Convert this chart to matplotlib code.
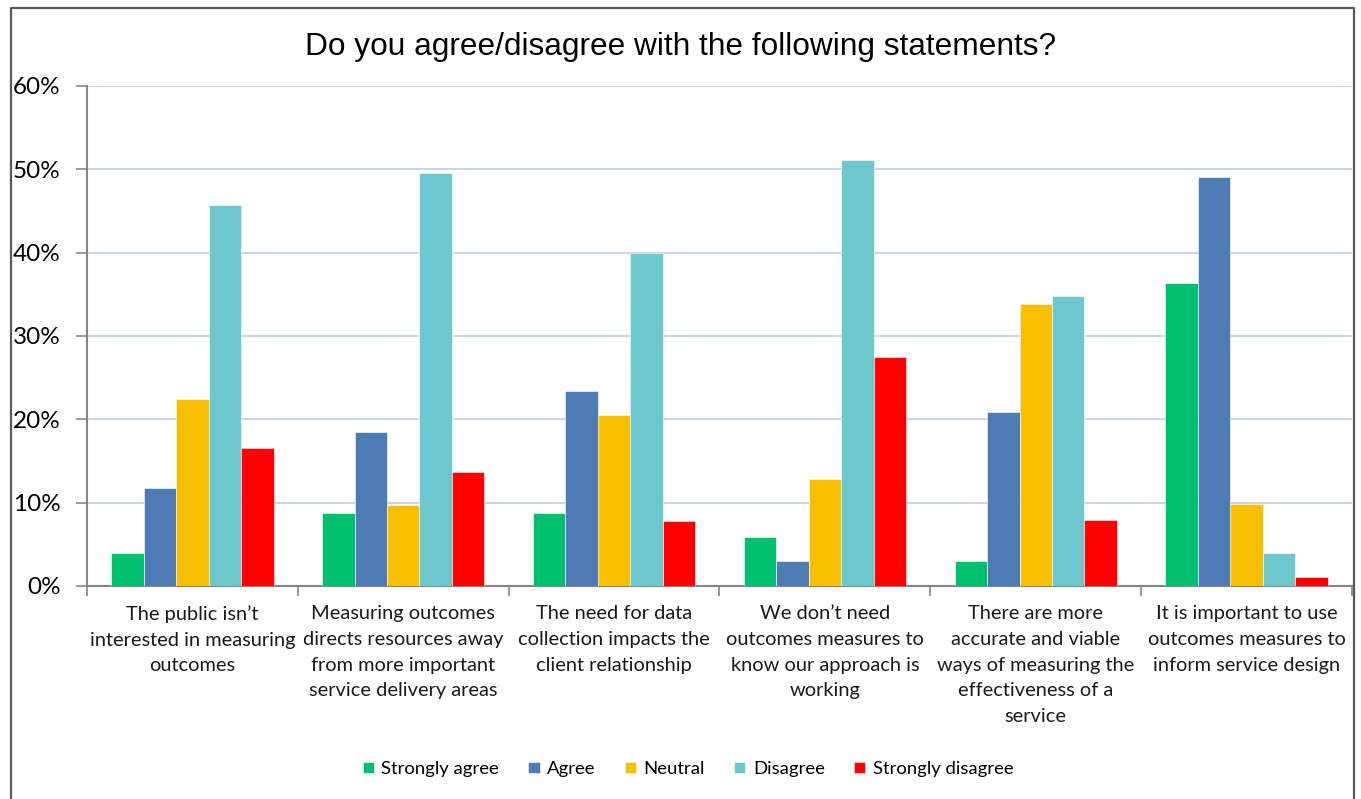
import numpy as np
import matplotlib.pyplot as plt
from matplotlib.lines import Line2D
from matplotlib.ticker import FuncFormatter

# survey statements (x categories, pre-wrapped)
statements = [
    "The public isn\u2019t\ninterested in measuring\noutcomes",
    "Measuring outcomes\ndirects resources away\nfrom more important\nservice delivery areas",
    "The need for data\ncollection impacts the\nclient relationship",
    "We don\u2019t need\noutcomes measures to\nknow our approach is\nworking",
    "There are more\naccurate and viable\nways of measuring the\neffectiveness of a\nservice",
    "It is important to use\noutcomes measures to\ninform service design",
]

responses = ["Strongly agree", "Agree", "Neutral", "Disagree", "Strongly disagree"]

# percent of respondents per statement
strongly_agree = [4.0, 8.8, 8.8, 5.9, 3.0, 36.4]
agree = [11.8, 18.5, 23.4, 3.0, 20.9, 49.1]
neutral = [22.4, 9.7, 20.5, 12.8, 33.8, 9.8]
disagree = [45.7, 49.6, 40.0, 51.1, 34.8, 4.0]
strongly_disagree = [16.6, 13.7, 7.8, 27.5, 7.9, 1.1]

colors = ["#00BF6F", "#4F7BB5", "#F8BE00", "#6CC8CC", "#FF0000"]

series = [strongly_agree, agree, neutral, disagree, strongly_disagree]

W, H = 1361, 799
fig = plt.figure(figsize=(W / 100, H / 100), dpi=100)
ax = fig.add_axes([87 / W, 1 - 586 / H, 1265 / W, 500 / H])

# chart border: left, top, right (bottom runs off the image)
bx0, bx1, by = 11 / W, 1354 / W, 1 - 8 / H
fig.lines.append(Line2D([bx0, bx0, bx1, bx1], [0, by, by, 0],
                        transform=fig.transFigure, color="#595959",
                        linewidth=1.6))

x = np.arange(len(statements))
w = 0.154
for i, (vals, c, name) in enumerate(zip(series, colors, responses)):
    ax.bar(x + (i - 2) * w, vals, w, color=c, label=name,
           edgecolor="white", linewidth=0.4, zorder=3)

ax.set_xlim(-0.5, len(statements) - 0.5)
ax.set_ylim(0, 60)
ax.set_yticks(np.arange(0, 61, 10))
ax.yaxis.set_major_formatter(FuncFormatter(lambda v, p: f"{v:.0f}%"))
ax.grid(axis="y", color="#C9D6E8", linewidth=1.5, zorder=0)

for s in ["top", "right"]:
    ax.spines[s].set_visible(False)
for s in ["left", "bottom"]:
    ax.spines[s].set_color("#868686")
    ax.spines[s].set_linewidth(1.5)

ax.tick_params(axis="y", length=8, width=1.2, color="#868686",
               labelsize=17.5, pad=11)
ax.set_xticks(np.arange(-0.5, len(statements)))
ax.set_xticklabels([])
ax.tick_params(axis="x", length=7, width=1.2, color="#868686")
for lab in ax.get_yticklabels():
    lab.set_fontfamily("Lato")

for xi, txt in zip(x, statements):
    ax.text(xi, -2.3, txt, ha="center", va="top", fontsize=14.4,
            family="Lato", color="#1A1A1A", linespacing=1.62)

fig.text(0.5, 1 - 47 / H, "Do you agree/disagree with the following statements?",
         ha="center", va="center", fontsize=22.8, family="Liberation Sans")

fig.legend(loc="center", bbox_to_anchor=(688 / W, 1 - 769 / H), ncol=5,
           frameon=False, prop={"family": "Lato", "size": 13.3},
           handlelength=0.6, handleheight=0.6, handletextpad=0.4,
           columnspacing=1.6)

fig.savefig("out.png", dpi=100)
